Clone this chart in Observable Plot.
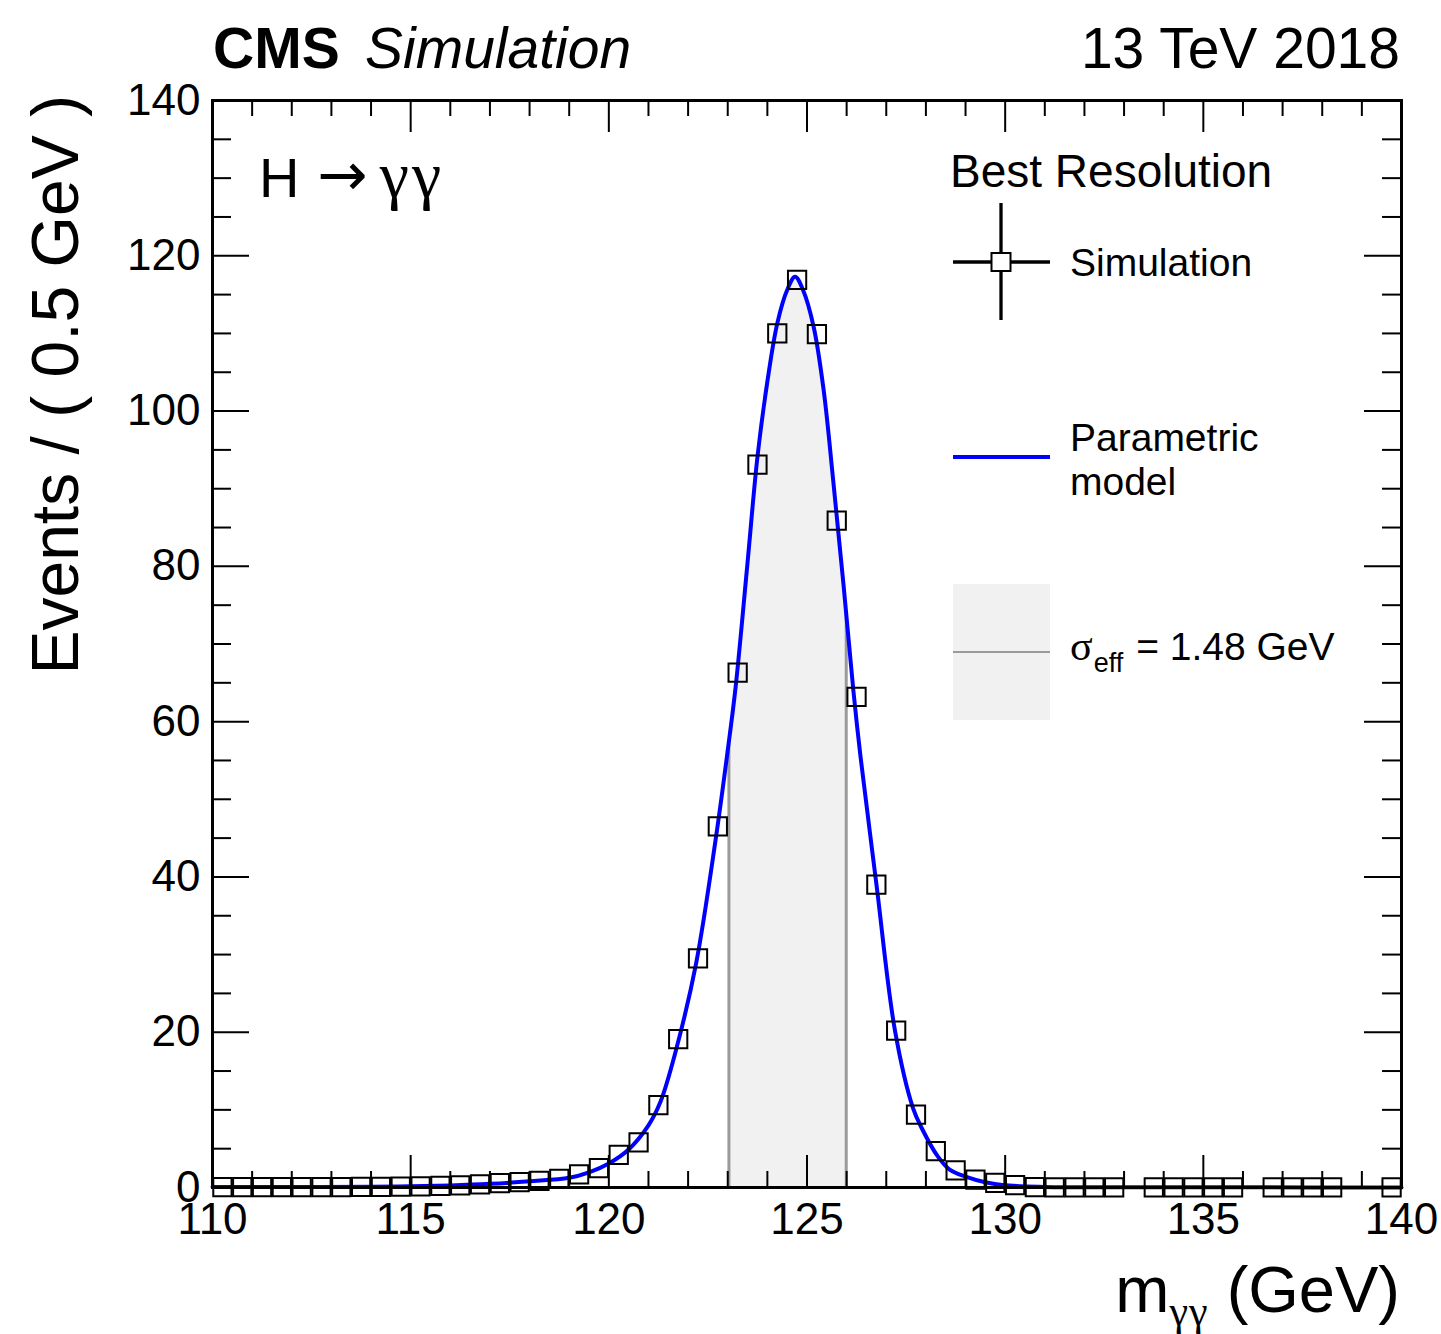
<!DOCTYPE html>
<html><head><meta charset="utf-8">
<script src="https://cdn.jsdelivr.net/npm/d3@7"></script>
<script src="https://cdn.jsdelivr.net/npm/@observablehq/plot@0.6"></script>
<style>
body{margin:0;background:#fff;}
#wrap{position:relative;width:1441px;height:1334px;font-family:"Liberation Sans",Arial,sans-serif;}
#overlay{position:absolute;left:0;top:0;pointer-events:none;}
</style></head><body><div id="wrap"></div>
<script>
// ---- data ----
const binCenters = [110.25,110.75,111.25,111.75,112.25,112.75,113.25,113.75,114.25,114.75,
  115.25,115.75,116.25,116.75,117.25,117.75,118.25,118.75,119.25,119.75,
  120.25,120.75,121.25,121.75,122.25,122.75,123.25,123.75,124.25,124.75,
  125.25,125.75,126.25,126.75,127.25,127.75,128.25,128.75,129.25,129.75,
  130.25,130.75,131.25,131.75,132.25,132.75,133.75,134.25,134.75,135.25,
  135.75,136.75,137.25,137.75,138.25,139.75];
const simEvents = [0.05,0.05,0.05,0.05,0.05,0.06,0.06,0.08,0.08,0.12,
  0.15,0.2,0.26,0.39,0.57,0.7,0.85,1.1,1.7,2.5,
  4.2,5.8,10.6,19.1,29.5,46.5,66.3,93.1,110.0,116.9,
  109.9,85.9,63.2,39.0,20.2,9.4,4.7,2.2,1.0,0.58,
  0.3,0.05,0.03,0.03,0.02,0.02,0.02,0.02,0.02,0.02,
  0.02,0.01,0.01,0.01,0.01,0.01];
const modelMass = [110,112,114,115,116,117,118,119,119.5,120,120.5,121,121.3,121.7,122.2,122.7,
  123.0,123.2,123.5,123.75,124.0,124.25,124.5,124.7,124.9,125.17,125.42,125.67,125.92,126.17,
  126.35,126.76,127.22,127.67,127.9,128.3,128.6,129.0,129.5,130.1,131,133,136,140];
const modelEvents = [0.05,0.07,0.11,0.16,0.27,0.47,0.8,1.25,1.95,3.1,4.9,8.0,11.0,17.8,28.8,45.0,
  56.3,64.5,80.5,94.1,103.8,111.3,115.6,117.3,115.6,110.8,102.7,90.6,77.7,64.0,
  55.5,38.7,20.2,10.3,7.6,4.0,2.3,1.4,0.68,0.25,0.08,0.03,0.02,0.01];
const sigmaLo = 123.03, sigmaHi = 125.99;      // sigma_eff window (2 x 1.48 GeV)
const sigmaLoEvents = 57.5, sigmaHiEvents = 74.0;
const xMajorTicks = [110,115,120,125,130,135,140];
const xMinorTicks = [111,112,113,114,116,117,118,119,121,122,123,124,126,127,128,129,131,132,133,134,136,137,138,139];
const yMajorTicks = [0,20,40,60,80,100,120,140];
const yMinorTicks = [5,10,15,25,30,35,45,50,55,65,70,75,85,90,95,105,110,115,125,130,135];

// ---- layout ----
const W = 1441, H = 1334;
const mL = 212, mR = 40, mT = 100, mB = 147;
const fW = W - mL - mR, fH = H - mT - mB;

const bins = binCenters.map((m, i) => ({m, n: simEvents[i]}));
const model = modelMass.map((m, i) => ({m, n: modelEvents[i]}));
const band = [{m: sigmaLo, n: sigmaLoEvents},
  ...model.filter(d => d.m > sigmaLo && d.m < sigmaHi),
  {m: sigmaHi, n: sigmaHiEvents}];
const edges = [{m: sigmaLo, n: sigmaLoEvents}, {m: sigmaHi, n: sigmaHiEvents}];

const xMajLen = 32, xMinLen = 16, yMajLen = 37, yMinLen = 19;

const chart = Plot.plot({
  width: W, height: H,
  marginLeft: mL, marginRight: mR, marginTop: mT, marginBottom: mB,
  style: {fontFamily: '"Liberation Sans", Arial, sans-serif', fontSize: "44px", color: "black", background: "white"},
  x: {domain: [110, 140], axis: null},
  y: {domain: [0, 140], axis: null},
  marks: [
    Plot.areaY(band, {x: "m", y: "n", fill: "#f1f1f1", curve: "catmull-rom"}),
    Plot.ruleX(edges, {x: "m", y1: 0, y2: "n", stroke: "#9a9a9a", strokeWidth: 3}),
    Plot.line(model, {x: "m", y: "n", stroke: "#0000ff", strokeWidth: 4, curve: "catmull-rom"}),
    Plot.dot(bins, {x: "m", y: "n", symbol: "square", r: 10.3, stroke: "black", strokeWidth: 2, fill: "none"}),
    // inward ticks, all four sides
    Plot.ruleX(xMajorTicks, {x: d => d, insetTop: fH - xMajLen, stroke: "black", strokeWidth: 2}),
    Plot.ruleX(xMinorTicks, {x: d => d, insetTop: fH - xMinLen, stroke: "black", strokeWidth: 2}),
    Plot.ruleX(xMajorTicks, {x: d => d, insetBottom: fH - xMajLen, stroke: "black", strokeWidth: 2}),
    Plot.ruleX(xMinorTicks, {x: d => d, insetBottom: fH - xMinLen, stroke: "black", strokeWidth: 2}),
    Plot.ruleY(yMajorTicks, {y: d => d, insetRight: fW - yMajLen, stroke: "black", strokeWidth: 2}),
    Plot.ruleY(yMinorTicks, {y: d => d, insetRight: fW - yMinLen, stroke: "black", strokeWidth: 2}),
    Plot.ruleY(yMajorTicks, {y: d => d, insetLeft: fW - yMajLen, stroke: "black", strokeWidth: 2}),
    Plot.ruleY(yMinorTicks, {y: d => d, insetLeft: fW - yMinLen, stroke: "black", strokeWidth: 2}),
    Plot.frame({stroke: "black", strokeWidth: 3}),
    Plot.axisX({ticks: xMajorTicks, tickSize: 0, tickPadding: 15, fontSize: 44, label: null, tickFormat: d => String(d)}),
    Plot.axisY({ticks: yMajorTicks, tickSize: 0, tickPadding: 12, fontSize: 44, dy: 0, label: null, tickFormat: d => String(d)})
  ]
});
const wrap = document.getElementById("wrap");
wrap.appendChild(chart);

const sans = '"Liberation Sans", Arial, sans-serif';
const serif = '"Liberation Serif", "Times New Roman", serif';
const dejavu = '"DejaVu Sans", sans-serif';
const ov = `
<svg id="overlay" width="${W}" height="${H}" xmlns="http://www.w3.org/2000/svg" font-family='${sans}'>
  <text x="213" y="68" font-size="57" font-weight="bold">CMS</text>
  <text x="365" y="68" font-size="57" font-style="italic">Simulation</text>
  <text x="1400" y="68" font-size="57" text-anchor="end">13 TeV 2018</text>

  <text x="259" y="197" font-size="56">H<tspan dx="18" font-family='${dejavu}' font-size="60" dy="-2">→</tspan><tspan dx="12" dy="2" font-family='${serif}' font-size="66" letter-spacing="3">γγ</tspan></text>

  <text transform="translate(78,95) rotate(-90)" font-size="66" text-anchor="end">Events / ( 0.5 GeV )</text>
  <text x="1400" y="1312" font-size="65" text-anchor="end">m<tspan font-family='${serif}' font-size="42" dy="13" letter-spacing="1">γγ</tspan><tspan dy="-13"> (GeV)</tspan></text>

  <text x="950" y="187" font-size="46">Best Resolution</text>
  <line x1="953" x2="1050" y1="262" y2="262" stroke="black" stroke-width="3.3"/>
  <line x1="1001" x2="1001" y1="203" y2="320" stroke="black" stroke-width="3.3"/>
  <rect x="991.5" y="253" width="19" height="18" fill="white" stroke="black" stroke-width="2"/>
  <text x="1070" y="276" font-size="39">Simulation</text>

  <line x1="953" x2="1050" y1="457" y2="457" stroke="#0000ff" stroke-width="4"/>
  <text x="1070" y="451" font-size="39">Parametric</text>
  <text x="1070" y="495" font-size="39">model</text>

  <rect x="953" y="584" width="97" height="136" fill="#f1f1f1"/>
  <line x1="953" x2="1050" y1="652" y2="652" stroke="#9a9a9a" stroke-width="2"/>
  <text x="1070" y="660" font-size="39"><tspan font-family='${serif}' font-size="42">σ</tspan><tspan font-size="27" dy="12" dx="1">eff</tspan><tspan dy="-12" dx="13">= 1.48 GeV</tspan></text>
</svg>`;
wrap.insertAdjacentHTML("beforeend", ov);
</script>
</body></html>
